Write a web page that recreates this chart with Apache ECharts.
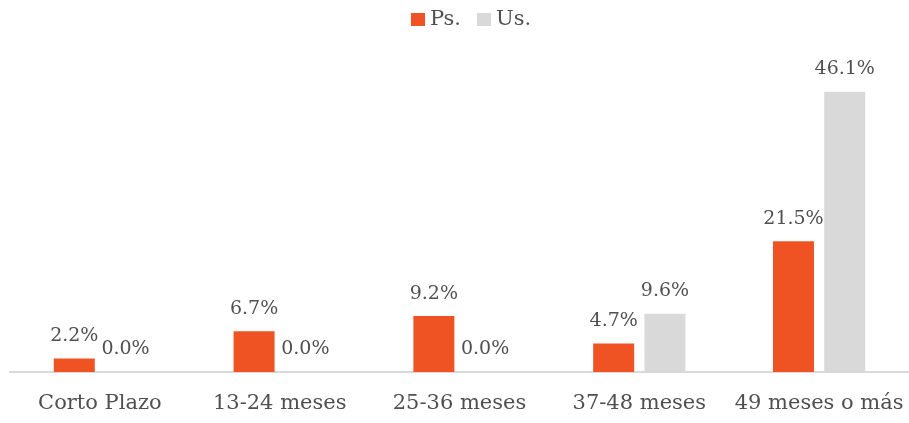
<!DOCTYPE html>
<html><head><meta charset="utf-8">
<script src="https://cdn.jsdelivr.net/npm/echarts@6/dist/echarts.min.js"></script>
<style>html,body{margin:0;padding:0;background:#fff}#c{width:909px;height:423px}</style>
</head><body><div id="c"></div>
<script>
const categories = ['Corto Plazo', '13-24 meses', '25-36 meses', '37-48 meses', '49 meses o más'];
const seriesNames = ['Ps.', 'Us.'];
const psValues = [2.2, 6.7, 9.2, 4.7, 21.5];
const usValues = [0.0, 0.0, 0.0, 9.6, 46.1];

const font = 'DejaVu Serif';
const chart = echarts.init(document.getElementById('c'));
const labelCfg = {
  show: true, position: 'top', distance: 13,
  fontFamily: font, fontSize: 19, color: '#505050',
  formatter: p => p.value.toFixed(1) + '%'
};
chart.setOption({
  animation: false,
  legend: {
    top: 4, left: 406, itemWidth: 14, itemHeight: 13, itemGap: 16,
    icon: 'rect',
    textStyle: { fontFamily: font, fontSize: 21, color: '#505050' },
    data: seriesNames
  },
  grid: { left: 10, right: -3, top: 68, bottom: 51 },
  xAxis: {
    type: 'category', data: categories,
    axisLine: { lineStyle: { color: '#D9D9D9', width: 2 } },
    axisTick: { show: false },
    axisLabel: { interval: 0, fontFamily: font, fontSize: 21, color: '#505050', margin: 21 }
  },
  yAxis: { type: 'value', min: 0, max: 50, show: false, splitLine: { show: false } },
  series: [
    { name: seriesNames[0], type: 'bar', data: psValues, barWidth: 41, barGap: '25%',
      itemStyle: { color: '#F05323' }, label: labelCfg },
    { name: seriesNames[1], type: 'bar', data: usValues, barWidth: 41,
      itemStyle: { color: '#D9D9D9' }, label: labelCfg }
  ]
});
</script></body></html>
